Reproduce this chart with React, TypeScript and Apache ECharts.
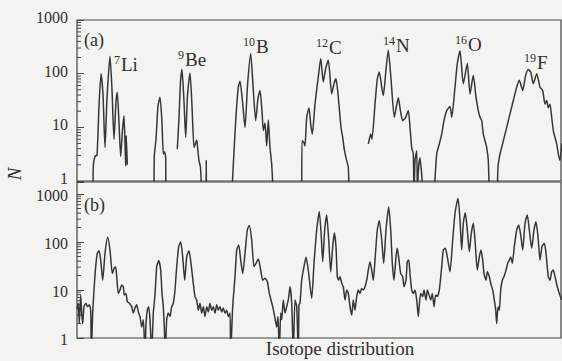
import React, { useEffect, useRef } from "react";
import * as echarts from "echarts";

// ---------- data (channel index along the isotope distribution, count N) ----------
// Panel (a): isolated isotope groups (gaps between them)
const aLi: [number, number][] = [[16,0.5],[16.3,1.9],[18,2.9],[20,3.0],[22,25],[24,100],[26,40],[28,4.2],[30,35],[33,211],[35,50],[37,6.0],[39,30],[40.3,45],[42,12],[43.7,2.9],[45.5,9],[47,16.5],[48,5],[48.7,1.9],[49.3,7],[50.3,2]];
const aBe1: [number, number][] = [[77,0.5],[77.3,2.9],[79,6],[81,25],[83,36.5],[85,12],[86.3,3.2],[87.5,3.5],[88.7,2.7],[88.8,0.5]];
const aBe2: [number, number][] = [[100.3,3.9],[102,15],[103.5,70],[105,119],[107,30],[108.7,6.5],[110.5,40],[113,103],[115,25],[117,4.2],[118.5,5],[119.7,5.8],[121,3.5],[122,2.4],[123.5,1.8],[124.7,0.5]];
const aBe3: [number, number][] = [[129,0.5],[129.2,2.4],[129.5,0.5]];
const aB: [number, number][] = [[154.7,0.5],[156.3,2],[158.7,13.3],[161.3,56],[163,72],[165.5,30],[168,10],[170.5,60],[173.7,237],[176,60],[178.7,13.3],[181,35],[183,48.7],[185,20],[186.3,8.7],[188,12],[189.7,4.5],[191.3,13.7],[193,4.2],[194.7,2.05],[196.3,0.5]];
const aC: [number, number][] = [[224.7,0.5],[225,5.6],[227,5.2],[228,4.5],[229.7,15.4],[232,23],[233.7,11.5],[235.3,7.5],[238,27],[241.3,87],[243.7,191],[246.3,70],[248.5,120],[251.3,178],[254.7,42],[257,65],[259,80],[261.3,36.5],[264,10],[265.7,6.5],[267,4.2],[269,2.7],[271.3,1.8],[272,0.5]];
const aN: [number, number][] = [[291.3,4.9],[293.7,7.5],[295,6.0],[298,27],[300.3,80],[302.3,107],[304.5,60],[306.3,39],[309,120],[311.3,274],[314,80],[317.3,15.4],[319.5,25],[321.3,35.5],[323.5,20],[325.7,13.3],[328.5,15],[331.3,20.5],[333,10],[334.7,4.2],[336.3,3.2],[337,0.5],[338,2.4],[339.7,3.65],[340.5,0.5],[341.3,1.5],[343,2.7],[344.7,1.3],[346.3,0.5]];
const aO: [number, number][] = [[357,0.5],[359.7,3.2],[362.3,4.9],[364.7,7.5],[367,13.3],[369.7,20.5],[373,24.4],[374.7,15.4],[378,56],[380.3,154],[383,266],[386.3,65],[390.3,154],[393,42],[396.3,93],[399,36.5],[401.3,20.5],[403,15.4],[404.7,13.3],[406.3,7.5],[408,5.6],[409.7,4.2],[411.3,2.4],[412.3,0.5]];
const aF: [number, number][] = [[420.3,0.5],[421,1.8],[423,3.2],[424.7,4.2],[426.3,5.6],[429.7,10],[433,17.8],[436.3,31.6],[439.7,56],[442.3,75],[445.7,48.7],[448.5,90],[451.3,119],[453.7,107],[456.3,65],[459.7,100],[463,56],[465.7,48.7],[468,27],[469.7,31.6],[471.3,23],[473,27],[474.7,15.4],[476.3,8.7],[478,6.5],[479.7,4.9],[481.3,3.2],[483,2.4],[484.7,5]];

// Panel (b): one continuous spectrum, split in regions
const bLi: [number, number][] = [[0,4],[1.3,5.3],[2.3,2.0],[3.7,7.9],[4.7,3.3],[5.7,2.0],[7,4.5],[9,5.3],[10.3,4.5],[12.3,4.9],[13.7,3.8],[14.3,0.5],[15.7,3.3],[17,10],[18.7,30.6],[20.3,58],[22,66],[23.7,42],[25.7,16],[28,58],[30.7,125],[33,68],[35.3,22],[37,28],[38.7,30],[39.7,19],[41.3,8.5],[43,10],[44.7,12.7],[46.3,11.7],[47.3,7.9],[49,8.5],[50.3,5.7],[52.3,5.3],[54.7,4.5],[56.3,3.3],[58,4.2],[59.7,4.9],[61.3,3.5],[63,2.8],[64.7,1.7],[66.3,2.4],[68,0.5],[69,2.0],[70.3,3.8],[71.7,4.5],[73,2.4],[74.7,0.5]];
const bBe: [number, number][] = [[76.3,3.3],[78,7.9],[79.7,30.6],[81.7,41],[83.7,26],[85,8.5],[86.3,4.5],[87.3,1.7],[88.3,0.5],[89.7,2.4],[91.3,3.3],[93,2.8],[94.7,4.5],[96.3,5.3],[98,10],[99.7,30.6],[101.7,80],[103.7,100],[105.7,49],[107.7,16],[109.7,49],[112,66],[114,36],[116.3,13.8],[118,7.3],[119.7,6.2],[121.3,3.8],[123,5.3],[124.7,3.3],[126.3,4.5],[128,2.8],[129.7,4.5],[131.3,3.5],[133,5.3],[134.7,3.8],[136.3,4.5],[138,3.3],[139.7,4.9],[141.3,3.8],[143,4.5],[144.7,3.5],[146.3,4.2],[148,3.3],[149.7,3.8],[151.3,2.8],[153,3.3],[153.7,0.5]];
const bB: [number, number][] = [[155.7,4.5],[158,19],[159.7,68],[161.7,87],[163.7,42],[165.7,22],[168,58],[170.3,178],[172.3,222],[174.7,110],[177,30.6],[179,36],[181.3,44],[183.7,26],[185.7,16],[188,17.5],[190.3,15],[192.3,8.5],[194,6.2],[195.7,4.5],[197,3.3],[198.3,2.4],[199.7,1.7],[201,2.8],[202.3,0.5],[203.7,3.3]];
const bC: [number, number][] = [[204.7,2.4],[206.3,6.2],[208,3.3],[209.7,4.5],[211.3,6.2],[213,11.7],[214.7,5.3],[216.3,0.5],[218,6.2],[219.7,4.5],[221.3,0.5],[222,5],[223,5.3],[224.7,16],[227,30.6],[229,48],[231.3,26],[234.7,6.7],[237,36],[239.7,178],[242.3,429],[244.3,129],[245.7,39],[247.7,178],[249.7,365],[251.7,110],[253.7,24],[255.7,80],[257.3,156],[259,80],[260.3,19],[261.7,16],[263,19],[264.7,13.8],[266.3,11.7],[268,6.2],[269.7,10],[271.3,8.5],[273,4.5],[274.7,3.0],[276.3,6.2],[278,3.8],[279.7,7.3],[281.3,10],[283,8.5],[284.7,10.8],[286.3,10],[288,11.7],[289.7,16]];
const bN: [number, number][] = [[291.3,26],[293,39],[294.7,26],[296.3,16],[298,42],[300.3,178],[302.3,278],[304.7,110],[306.7,36],[309,178],[311.7,545],[313.7,178],[315.3,36],[317,16],[319,49],[320.3,74],[322,42],[323.7,22],[325.7,19],[327,11.7],[329,16],[330.3,39],[331.7,42],[333,22],[334.7,10],[336.3,8.5],[338,10],[339.7,6.2],[341.3,2.8],[342.3,4.9],[343.7,8.5],[345.7,7.3],[347,10],[349,6.2],[350.3,10],[352,7.9],[353.7,6.2],[355.3,8.5],[357,4.5],[358.7,7.9],[360.3,7.3],[362.3,10]];
const bO: [number, number][] = [[364.7,30.6],[366.3,68],[368.3,74],[370.3,49],[373,24],[375.7,110],[378,395],[381,812],[383,287],[384.7,68],[386.3,245],[388.3,409],[390.3,178],[392.3,63],[394.3,152],[396.3,245],[398,110],[400.3,26],[402.3,49],[404,68],[405.7,42],[407,22],[409,16],[410.3,24],[412.3,19],[413.7,13.8],[415.7,10],[417.3,6.2],[418.7,3.8],[419.7,2.0],[421,4.5]];
const bF: [number, number][] = [[422.3,3.8],[423.7,10],[425.3,16],[427,19],[429,26],[430.7,36],[432.3,42],[433.7,49],[435.3,36],[437.3,80],[439.7,178],[441.7,226],[443.7,140],[445.7,68],[448,245],[450.3,365],[452.3,178],[454.7,74],[457,178],[459,265],[461,129],[463,42],[465,80],[467.3,94],[469,58],[471.3,19],[473,16],[474.7,24],[476.3,26],[478,19],[480.3,11.7],[482.3,8.5],[484.7,6.2]];

const yTickLabels = [1, 10, 100, 1000];
const minorTickValues = [2,3,4,5,6,7,8,9,20,30,40,50,60,70,80,90,200,300,400,500,600,700,800,900];
const isotopeMass = ["7", "9", "10", "12", "14", "16", "19"];
const isotopeSymbol = ["Li", "Be", "B", "C", "N", "O", "F"];
const panelTags = ["(a)", "(b)"];
const xTitle = "Isotope distribution";
const yTitle = "N";

// ---------- layout / style ----------
const SERIF = "'Liberation Serif', 'DejaVu Serif', serif";
const INK = "#2f2f2f";
const LINE = "#363636";
// left edge of the label and centre line of the element symbol
const labelPos = [
  { x: 114, y: 64 },
  { x: 178, y: 59 },
  { x: 243, y: 46 },
  { x: 316, y: 47 },
  { x: 383, y: 45 },
  { x: 455, y: 44 },
  { x: 524, y: 62 },
];

function withGaps(groups: [number, number][][]) {
  const out: any[] = [];
  groups.forEach((g, i) => {
    if (i > 0) out.push([g[0][0], "-"]);
    g.forEach((p) => out.push(p));
  });
  return out;
}

export default function App() {
  const ref = useRef<HTMLDivElement>(null);
  useEffect(() => {
    if (!ref.current) return;
    const chart = echarts.init(ref.current, undefined, { renderer: "svg" });

    const yAxisBase = (gridIndex: number, max: number, vAlign: string, lh: number) => ({
      type: "log",
      logBase: 10,
      gridIndex,
      min: 1,
      max,
      axisLine: { show: false },
      splitLine: { show: false },
      axisTick: { show: true, inside: true, length: 7, lineStyle: { color: "#444", width: 1 } },
      axisLabel: {
        margin: 9,
        fontFamily: SERIF,
        fontSize: 16,
        lineHeight: lh,
        verticalAlign: vAlign,
        color: INK,
        formatter: (v: number) => {
          const t = yTickLabels.find((k) => Math.abs(k - v) / k < 0.01);
          return t === undefined ? "" : String(t);
        },
      },
    });

    const minorSeries = (idx: number) => ({
      type: "custom",
      xAxisIndex: idx,
      yAxisIndex: idx,
      silent: true,
      data: minorTickValues.map((v) => [0, v]),
      encode: { x: 0, y: 1 },
      renderItem: (_p: any, api: any) => {
        const pt = api.coord([api.value(0), api.value(1)]);
        return {
          type: "line",
          shape: { x1: pt[0], y1: pt[1], x2: pt[0] + 4, y2: pt[1] },
          style: { stroke: "#444", lineWidth: 1 },
        };
      },
    });

    const graphics: any[] = [];
    isotopeSymbol.forEach((sym, i) => {
      const p = labelPos[i];
      graphics.push({
        type: "text", x: p.x, y: p.y,
        style: {
          text: `{s|${isotopeMass[i]}}{m|${sym}}`,
          fontFamily: SERIF,
          fill: INK,
          align: "left",
          verticalAlign: "middle",
          rich: {
            s: { fontFamily: SERIF, fontSize: 12, lineHeight: 10, verticalAlign: "top", fill: INK, padding: [0, 1, 0, 0] },
            m: { fontFamily: SERIF, fontSize: 19, lineHeight: 20, verticalAlign: "bottom", fill: INK },
          },
        },
      });
    });
    graphics.push({ type: "text", x: 84, y: 40, style: { text: panelTags[0], fontFamily: SERIF, fontSize: 18, fill: INK, align: "left", verticalAlign: "middle" } });
    graphics.push({ type: "text", x: 84, y: 205, style: { text: panelTags[1], fontFamily: SERIF, fontSize: 18, fill: INK, align: "left", verticalAlign: "middle" } });
    graphics.push({ type: "text", x: 340, y: 348, style: { text: xTitle, fontFamily: SERIF, fontSize: 19, fill: INK, align: "center", verticalAlign: "middle" } });
    graphics.push({ type: "text", x: 14, y: 174, rotation: Math.PI / 2, style: { text: yTitle, fontFamily: SERIF, fontStyle: "italic", fontSize: 19, fill: INK, align: "center", verticalAlign: "middle" } });

    chart.setOption({
      animation: false,
      backgroundColor: "#f3f3f1",
      grid: [
        { left: 77, top: 20, right: 1, height: 161, show: true, borderColor: "#444", borderWidth: 1.2, backgroundColor: "transparent" },
        { left: 77, top: 182, right: 1, height: 156, show: true, borderColor: "#444", borderWidth: 1.2, backgroundColor: "transparent" },
      ],
      xAxis: [
        { type: "value", gridIndex: 0, min: 0, max: 484, show: false },
        { type: "value", gridIndex: 1, min: 0, max: 484, show: false },
      ],
      yAxis: [yAxisBase(0, 1000, "bottom", 5), yAxisBase(1, 1780, "top", 2)],
      series: [
        {
          type: "line", xAxisIndex: 0, yAxisIndex: 0, symbol: "none", clip: true,
          smooth: 0.2,
          lineStyle: { color: LINE, width: 1.5 },
          data: withGaps([aLi, aBe1, aBe2, aBe3, aB, aC, aN, aO, aF]),
        },
        {
          type: "line", xAxisIndex: 1, yAxisIndex: 1, symbol: "none", clip: true,
          smooth: 0.2,
          lineStyle: { color: LINE, width: 1.5 },
          data: [...bLi, ...bBe, ...bB, ...bC, ...bN, ...bO, ...bF],
        },
        minorSeries(0),
        minorSeries(1),
      ],
      graphic: graphics,
    });
    return () => chart.dispose();
  }, []);

  return (
    <div
      ref={ref}
      style={{ position: "fixed", left: 0, top: 0, width: 562, height: 361 }}
    />
  );
}
